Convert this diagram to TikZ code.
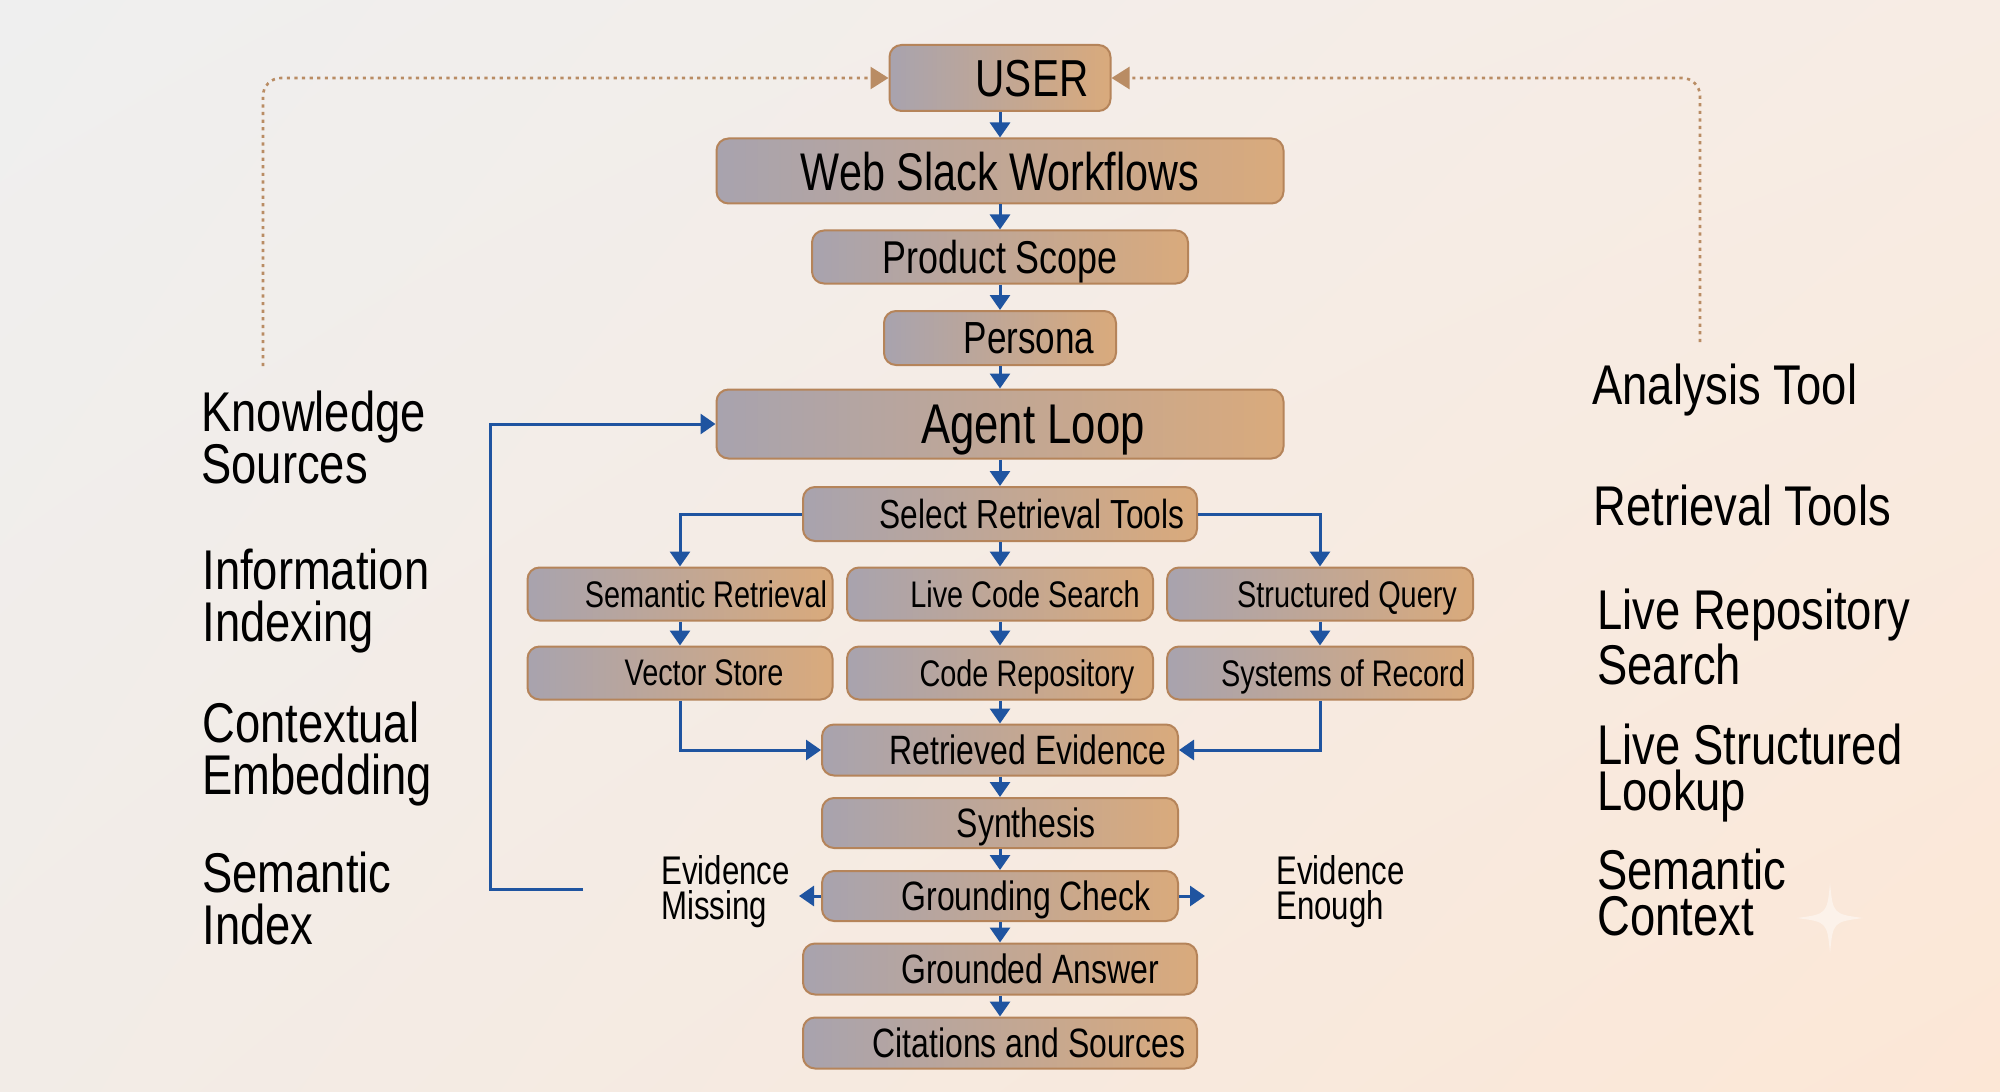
\documentclass[tikz,border=0pt]{standalone}
\usepackage{fontspec}
\setmainfont{Liberation Sans}
\newfontfamily\cnd[FakeStretch=0.78]{Liberation Sans}
\newfontfamily\cndL[FakeStretch=0.81]{Liberation Sans}
\usetikzlibrary{arrows.meta,shadings}
\definecolor{bgA}{HTML}{EFEFEF}
\definecolor{bgB}{HTML}{F7ECE4}
\definecolor{bgC}{HTML}{F2ECE7}
\definecolor{bgD}{HTML}{FCE7D6}
\definecolor{boxgray}{HTML}{A8A3AE}
\definecolor{boxmid}{HTML}{C2AEA4}
\definecolor{boxtan}{HTML}{D9AA7C}
\definecolor{boxline}{HTML}{B5845A}
\definecolor{arrblue}{HTML}{1F54A0}
\definecolor{dotc}{HTML}{B98C64}
\tikzset{
  box/.style={draw=boxline, line width=1pt, rounded corners=6pt,
    left color=boxgray, middle color=boxmid, right color=boxtan,
    inner sep=0pt, text depth=0pt, font=\cnd},
  barrow/.style={draw=arrblue, line width=1.5pt, -{Triangle[length=7.5pt,width=10pt]}},
  dotline/.style={draw=dotc, line width=1.3pt, dash pattern=on 1.6pt off 2.2pt,
    rounded corners=9pt, -{Triangle[length=9pt,width=11pt,fill=dotc]}},
  lab/.style={anchor=north west, align=left, inner sep=0pt},
}
\begin{document}
\begin{tikzpicture}[x=0.5pt,y=-0.5pt]
\shade[upper left=bgA, upper right=bgB, lower left=bgC, lower right=bgD] (0,0) rectangle (2000,1091);
\useasboundingbox (0,0) rectangle (2000,1091);

% boxes
\node[box, minimum width=110.5pt, minimum height=33pt, font=\cnd\fontsize{26}{26}\selectfont] (user) at (1000,78) {\hspace{32pt}USER};
\node[box, minimum width=283.5pt, minimum height=32.5pt, font=\cnd\fontsize{26.5}{26}\selectfont] (web) at (1000,171) {Web Slack Workflows};
\node[box, minimum width=188pt, minimum height=26.5pt, font=\cnd\fontsize{23}{23}\selectfont] (prod) at (1000,257) {Product Scope};
\node[box, minimum width=116pt, minimum height=27pt, font=\cnd\fontsize{22.5}{22}\selectfont] (pers) at (1000,338) {\hspace{29pt}Persona};
\node[box, minimum width=283.5pt, minimum height=34.5pt, font=\cnd\fontsize{28}{28}\selectfont] (agent) at (1000,424) {\hspace{33pt}Agent Loop};
\node[box, minimum width=197pt, minimum height=27pt, font=\cnd\fontsize{20.3}{20}\selectfont] (select) at (1000,514) {\hspace{32pt}Select Retrieval Tools};

\node[box, minimum width=152.5pt, minimum height=26.5pt, font=\cnd\fontsize{18.5}{18}\selectfont] (sem) at (680,594) {\hspace{26pt}Semantic Retrieval};
\node[box, minimum width=153pt, minimum height=26.5pt, font=\cnd\fontsize{18.5}{18}\selectfont] (live) at (1000,594) {\hspace{25pt}Live Code Search};
\node[box, minimum width=153pt, minimum height=26.5pt, font=\cnd\fontsize{18.5}{18}\selectfont] (struct) at (1320,594) {\hspace{27pt}Structured Query};
\node[box, minimum width=152.5pt, minimum height=26.5pt, font=\cnd\fontsize{18.5}{18}\selectfont] (vec) at (680,673) {\hspace{24pt}Vector Store};
\node[box, minimum width=153pt, minimum height=26.5pt, font=\cnd\fontsize{18.5}{18}\selectfont] (code) at (1000,673) {\hspace{27pt}Code Repository};
\node[box, minimum width=153pt, minimum height=26.5pt, font=\cnd\fontsize{18.5}{18}\selectfont] (sys) at (1320,673) {\hspace{23pt}Systems of Record};

\node[box, minimum width=178pt, minimum height=25.5pt, font=\cnd\fontsize{20.5}{20}\selectfont] (ret) at (1000,750) {\hspace{28pt}Retrieved Evidence};
\node[box, minimum width=178pt, minimum height=25pt, font=\cnd\fontsize{20.5}{20}\selectfont] (syn) at (1000,823) {\hspace{26pt}Synthesis};
\node[box, minimum width=178pt, minimum height=25pt, font=\cnd\fontsize{20.5}{20}\selectfont] (gc) at (1000,896) {\hspace{26pt}Grounding Check};
\node[box, minimum width=197pt, minimum height=25.5pt, font=\cnd\fontsize{20.5}{20}\selectfont] (ga) at (1000,969) {\hspace{30pt}Grounded Answer};
\node[box, minimum width=197pt, minimum height=25.5pt, font=\cnd\fontsize{20.5}{20}\selectfont] (cit) at (1000,1043) {\hspace{29pt}Citations and Sources};

% vertical flow
\draw[barrow] (user) -- (web);
\draw[barrow] (web) -- (prod);
\draw[barrow] (prod) -- (pers);
\draw[barrow] (pers) -- (agent);
\draw[barrow] (agent) -- (select);
\draw[barrow] (select) -- (live);
\draw[barrow] (select.west) -| (sem.north);
\draw[barrow] (select.east) -| (struct.north);
\draw[barrow] (sem) -- (vec);
\draw[barrow] (live) -- (code);
\draw[barrow] (struct) -- (sys);
\draw[barrow] (code) -- (ret);
\draw[barrow] (vec.south) |- (ret.west);
\draw[barrow] (sys.south) |- (ret.east);
\draw[barrow] (ret) -- (syn);
\draw[barrow] (syn) -- (gc);
\draw[barrow] (gc) -- (ga);
\draw[barrow] (ga) -- (cit);

% grounding side arrows
\coordinate (gl) at (799,896);
\coordinate (gr) at (1205,896);
\draw[barrow] (gc.west) -- (gl);
\draw[barrow] (gc.east) -- (gr);

% feedback loop
\coordinate (fbs) at (583,889);
\coordinate (fbc) at (490,889);
\draw[barrow] (fbs) -- (fbc) |- (agent.west);

% dotted lines to user
\coordinate (dl) at (263,366);
\coordinate (dr) at (1700,342);
\draw[dotline] (dl) |- (user.west);
\draw[dotline] (dr) |- (user.east);

% evidence labels
\node[lab, font=\cnd\fontsize{20}{17.5}\selectfont] (emiss) at (661,855) {Evidence\\Missing};
\node[lab, font=\cnd\fontsize{20}{17.5}\selectfont] (eenough) at (1276,855) {Evidence\\Enough};

% left labels
\node[lab, font=\cndL\fontsize{28}{26}\selectfont] (ks) at (201,391) {Knowledge\\Sources};
\node[lab, font=\cndL\fontsize{28}{26}\selectfont] (ii) at (202,549) {Information\\Indexing};
\node[lab, font=\cndL\fontsize{28}{26}\selectfont] (ce) at (202,702) {Contextual\\Embedding};
\node[lab, font=\cndL\fontsize{28}{26}\selectfont] (si) at (202,852) {Semantic\\Index};

% right labels
\node[lab, font=\cndL\fontsize{28}{23}\selectfont] (at) at (1592,364) {Analysis Tool};
\node[lab, font=\cndL\fontsize{28}{23}\selectfont] (rt) at (1593,485) {Retrieval Tools};
\node[lab, font=\cndL\fontsize{28}{23}\selectfont] (lrs) at (1597,589) {Live Repository\\Search};
\node[lab, font=\cndL\fontsize{28}{23}\selectfont] (lsl) at (1597,724) {Live Structured\\Lookup};
\node[lab, font=\cndL\fontsize{28}{23}\selectfont] (sc) at (1597,849) {Semantic\\Context};

% faint sparkle
\fill[white, opacity=0.45] (1830,883) .. controls (1833,914) .. (1863,918)
  .. controls (1833,922) .. (1830,953) .. controls (1827,922) .. (1797,918)
  .. controls (1827,914) .. (1830,883) -- cycle;
\end{tikzpicture}
\end{document}
